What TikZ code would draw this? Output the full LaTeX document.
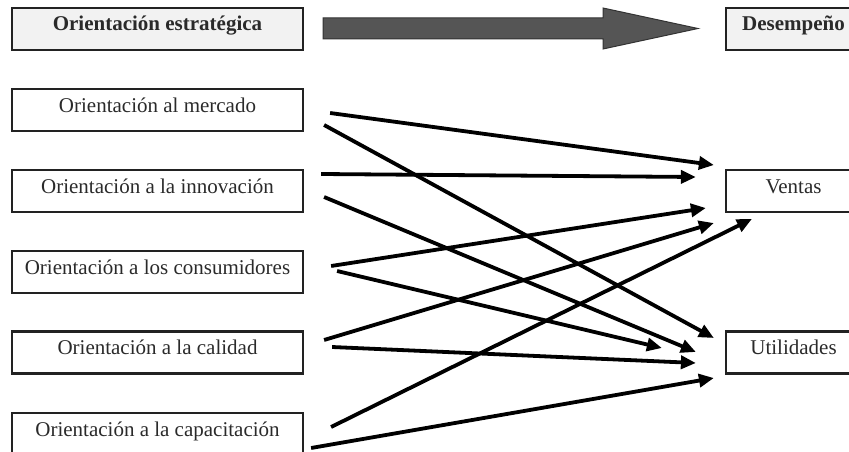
\documentclass[tikz,border=0pt]{standalone}
\usepackage{fontspec}
\setmainfont{Liberation Serif}
\usetikzlibrary{arrows.meta}
\definecolor{boxline}{HTML}{222222}
\definecolor{headfill}{HTML}{F2F2F2}
\definecolor{txt}{HTML}{2A2A2A}
\definecolor{bigfill}{HTML}{555555}
\definecolor{bigline}{HTML}{333333}
\tikzset{
  box/.style={draw=boxline, line width=2.2pt, inner sep=0pt, text=txt,
    font=\fontsize{21}{24}\selectfont, text height=12pt, text depth=8pt},
  leftbox/.style={box, minimum width=291pt, minimum height=42pt},
  rightbox/.style={box, minimum width=135pt, minimum height=42pt},
  headbox/.style={fill=headfill, font=\fontsize{21}{24}\selectfont\bfseries},
  link/.style={draw=black, line width=3.8pt, -{Triangle[length=15pt,width=13pt]}},
}
\begin{document}
\begin{tikzpicture}[x=1pt,y=-1pt]
\useasboundingbox (0,0) rectangle (849,452);
\clip (0,0) rectangle (849,452);
% header boxes
\node[leftbox, headbox] (oe) at (157.5,29) {Orientación estratégica};
\node[rightbox, headbox] (de) at (793.5,29) {Desempeño};
% big arrow
\draw[fill=bigfill, draw=bigline, line width=1pt]
  (323,18) -- (603,18) -- (603,8) -- (698,28.5) -- (603,49) -- (603,39) -- (323,39) -- cycle;
% left boxes
\node[leftbox] (m) at (157.5,110) {Orientación al mercado};
\node[leftbox] (i) at (157.5,191) {Orientación a la innovación};
\node[leftbox] (c) at (157.5,272) {Orientación a los consumidores};
\node[leftbox] (q) at (157.5,352.5) {Orientación a la calidad};
\node[leftbox] (p) at (157.5,434) {Orientación a la capacitación};
% right boxes
\node[rightbox] (v) at (793.5,191) {Ventas};
\node[rightbox] (u) at (793.5,352.5) {Utilidades};
% connectors
\draw[link] ([shift={(26,3)}]m.east) -- ([shift={(-11,-26)}]v.west);
\draw[link] ([shift={(20,15)}]m.east) -- ([shift={(-11,-14.5)}]u.west);
\draw[link] ([shift={(17,-17)}]i.east) -- ([shift={(-29,-14)}]v.west);
\draw[link] ([shift={(20,6)}]i.east) -- ([shift={(-29,-0.5)}]u.west);
\draw[link] ([shift={(27,-6)}]c.east) -- ([shift={(-19,17)}]v.west);
\draw[link] ([shift={(33,-1)}]c.east) -- ([shift={(-63,-4.5)}]u.west);
\draw[link] ([shift={(20,-12.5)}]q.east) -- ([shift={(-11,32)}]v.west);
\draw[link] ([shift={(28,-5.5)}]q.east) -- ([shift={(-29,10.5)}]u.west);
\draw[link] ([shift={(27,-7)}]p.east) -- ([shift={(27,28)}]v.west);
\draw[link] ([shift={(7,14)}]p.east) -- ([shift={(-11,25.5)}]u.west);
\end{tikzpicture}
\end{document}
